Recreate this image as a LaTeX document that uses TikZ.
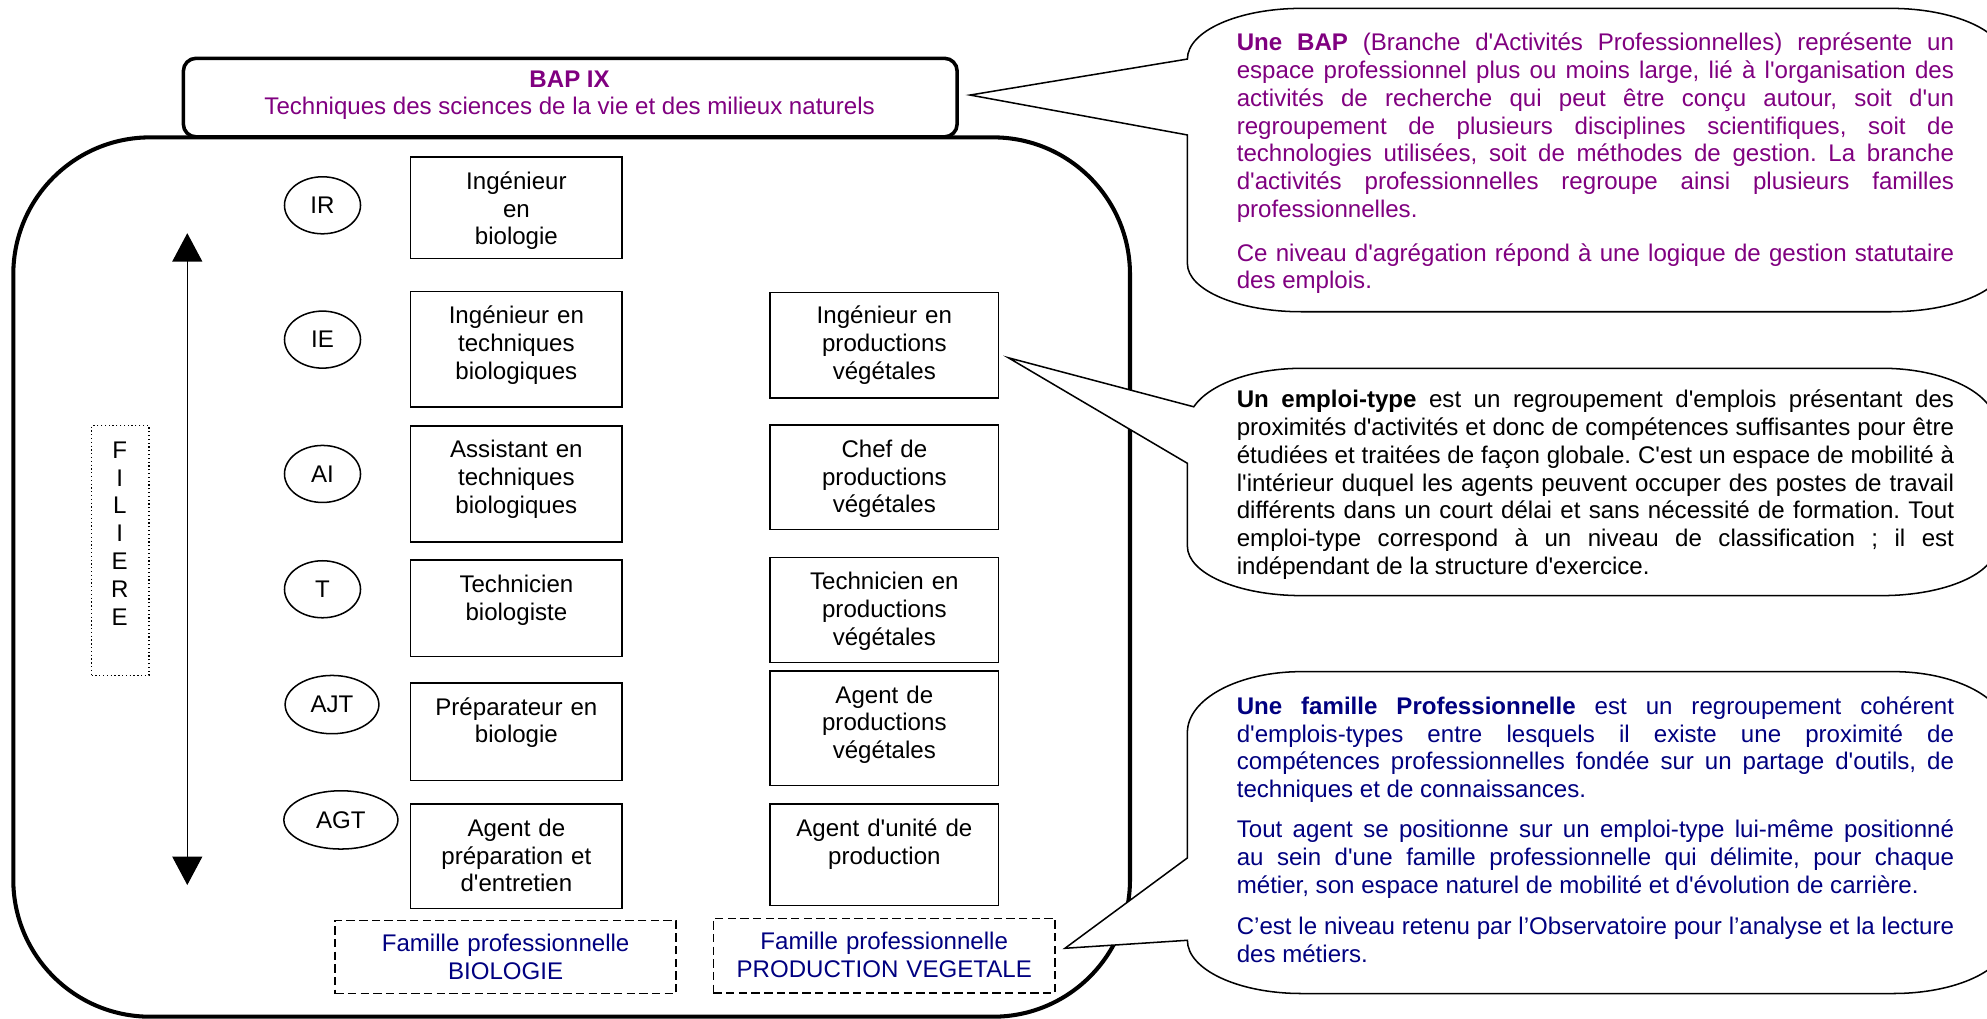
\documentclass[tikz,border=0pt]{standalone}
\usepackage{fontspec}
\newfontfamily\arial{Liberation Sans}
\usetikzlibrary{arrows.meta,shapes.geometric}
\definecolor{bapPurple}{RGB}{128,0,128}
\definecolor{famNavy}{RGB}{0,0,128}
\newcommand\mybodyfont{\arial\fontsize{9.5}{10.95}\selectfont}
\tikzset{
  txt/.style={font=\mybodyfont, inner sep=0pt, outer sep=0pt},
  jobbox/.style={draw, line width=0.6pt, fill=white, inner sep=0pt, minimum width=83.5pt},
  rjobbox/.style={jobbox, minimum width=90.15pt},
  jobtxt/.style={txt, anchor=base, align=center, text width=88pt},
  grade/.style={ellipse, draw, line width=0.6pt, txt, minimum width=30pt, minimum height=22.5pt},
  fambox/.style={draw, line width=0.6pt, dash pattern=on 3.3pt off 1.7pt, inner sep=0pt},
  famtxt/.style={txt, anchor=base, align=center, text width=130pt, text=famNavy},
  callout/.style={draw, line width=0.6pt, fill=white},
  calltxt/.style={txt, anchor=base west, align=justify, text width=283pt,
    execute at begin node={\frenchspacing\hyphenpenalty=10000\exhyphenpenalty=10000}},
}
\begin{document}
\begin{tikzpicture}[x=0.5pt, y=-0.5pt]
\useasboundingbox (0,0) rectangle (1568,804);
\clip (0,0) rectangle (1568,804);

% domain box
\node[draw, line width=1.6pt, rounded corners=54pt, minimum width=440.6pt,
      minimum height=346.95pt, inner sep=0pt] (domain) at (451.1,455.35) {};

% BAP title box
\node[draw, line width=1.4pt, rounded corners=5pt, fill=white, minimum width=305.3pt,
      minimum height=31pt, inner sep=0pt] (BAP) at (450,77) {};
\node[txt, anchor=base, text=bapPurple, font=\mybodyfont\bfseries] (bapT1) at (449.5,69.4) {BAP IX};
\node[txt, anchor=base, text=bapPurple] (bapT2) at (449.5,90) {Techniques des sciences de la vie et des milieux naturels};

% filiere
\coordinate (arrTop) at (147.8,184);
\coordinate (arrBot) at (147.8,698.4);
\draw[line width=0.5pt, {Triangle[width=11.8pt,length=11.2pt]}-{Triangle[width=11.8pt,length=11.2pt]}] (arrTop) -- (arrBot);
\node[draw, densely dotted, line width=0.5pt, minimum width=22.6pt, minimum height=98.5pt, inner sep=0pt] (filBox) at (94.9,434.5) {};
\node[txt, anchor=base, align=center, text width=15pt] (filT) at (94.5,361.8) {F\\I\\L\\I\\E\\R\\E};

% grades
\node[grade] (IR) at (254.5,162) {IR};
\node[grade] (IE) at (254.5,268) {IE};
\node[grade] (AI) at (254.5,374) {AI};
\node[grade] (T) at (254.5,465) {T};
\node[grade, minimum width=37pt, minimum height=23pt] (AJT) at (262,556) {AJT};
\node[grade, minimum width=45pt, minimum height=23pt] (AGT) at (269,647) {AGT};

% left column
\node[jobbox, minimum height=40pt] (L1) at (407.5,164) {};
\node[jobtxt] (L1t) at ([yshift=-13pt]L1.north) {Ingénieur\\en\\biologie};
\node[jobbox, minimum height=45.5pt] (L2) at (407.5,275.5) {};
\node[jobtxt] (L2t) at ([yshift=-13pt]L2.north) {Ingénieur en\\techniques\\biologiques};
\node[jobbox, minimum height=45.75pt] (L3) at (407.5,381.75) {};
\node[jobtxt] (L3t) at ([yshift=-13pt]L3.north) {Assistant en\\techniques\\biologiques};
\node[jobbox, minimum height=38pt] (L4) at (407.5,480) {};
\node[jobtxt] (L4t) at ([yshift=-13pt]L4.north) {Technicien\\biologiste};
\node[jobbox, minimum height=38.5pt] (L5) at (407.5,577.5) {};
\node[jobtxt] (L5t) at ([yshift=-13pt]L5.north) {Préparateur en\\biologie};
\node[jobbox, minimum height=41.25pt] (L6) at (407.5,675.75) {};
\node[jobtxt] (L6t) at ([yshift=-13pt]L6.north) {Agent de\\préparation et\\d'entretien};

% right column
\node[rjobbox, minimum height=41.5pt] (R1) at (697.85,272.5) {};
\node[jobtxt] (R1t) at ([yshift=-12.5pt]R1.north) {Ingénieur en\\productions\\végétales};
\node[rjobbox, minimum height=41.25pt] (R2) at (697.85,376.75) {};
\node[jobtxt] (R2t) at ([yshift=-13pt]R2.north) {Chef de\\productions\\végétales};
\node[rjobbox, minimum height=41.3pt] (R3) at (697.85,481.3) {};
\node[jobtxt] (R3t) at ([yshift=-13pt]R3.north) {Technicien en\\productions\\végétales};
\node[rjobbox, minimum height=45.25pt] (R4) at (697.85,574.75) {};
\node[jobtxt] (R4t) at ([yshift=-13pt]R4.north) {Agent de\\productions\\végétales};
\node[rjobbox, minimum height=40.1pt] (R5) at (697.85,674.6) {};
\node[jobtxt] (R5t) at ([yshift=-13pt]R5.north) {Agent d'unité de\\production};

% families
\node[fambox, minimum width=134.5pt, minimum height=28.75pt] (famBio) at (399,755.25) {};
\node[famtxt] (famBioT) at ([yshift=-12.6pt]famBio.north) {Famille professionnelle\\BIOLOGIE};
\node[fambox, minimum width=134.75pt, minimum height=29.35pt] (famVeg) at (697.75,754.05) {};
\node[famtxt] (famVegT) at ([yshift=-12.65pt]famVeg.north) {Famille professionnelle\\PRODUCTION VEGETALE};

% callouts
\coordinate (tip1) at (765.5,75);
\coordinate (tip2) at (795.7,282.3);
\coordinate (tip3) at (840.4,748.3);

\draw[callout] (937,46.6) arc[start angle=180,end angle=270,x radius=90,y radius=40]
  -- (1492,6.6) arc[start angle=270,end angle=360,x radius=90,y radius=40]
  -- (1582,208) arc[start angle=0,end angle=90,x radius=90,y radius=38]
  -- (1027,246) arc[start angle=90,end angle=180,x radius=90,y radius=38]
  -- (937,106.5) -- (tip1) -- cycle;

\draw[callout] (942,321) arc[start angle=199,end angle=270,x radius=90,y radius=45]
  -- (1485,290.6) arc[start angle=270,end angle=360,x radius=90,y radius=45]
  -- (1575,431) arc[start angle=0,end angle=90,x radius=90,y radius=39]
  -- (1027,470) arc[start angle=90,end angle=180,x radius=90,y radius=39]
  -- (937,365.6) -- (tip2) -- cycle;

\draw[callout] (937,677) -- (937,578) arc[start angle=180,end angle=270,x radius=90,y radius=48]
  -- (1494,530) arc[start angle=270,end angle=360,x radius=90,y radius=48]
  -- (1584,742) arc[start angle=0,end angle=90,x radius=90,y radius=42]
  -- (1027,784) arc[start angle=90,end angle=180,x radius=90,y radius=42]
  -- (tip3) -- cycle;

% callout texts
\node[calltxt, text=bapPurple] (c1p1) at (976,40.2) {\textbf{Une BAP} (Branche d'Activités Professionnelles) représente un\linebreak
espace professionnel plus ou moins large, lié à l'organisation des\linebreak
activités de recherche qui peut être conçu autour, soit d'un\linebreak
regroupement de plusieurs disciplines scientifiques, soit de\linebreak
technologies utilisées, soit de méthodes de gestion. La branche\linebreak
d'activités professionnelles regroupe ainsi plusieurs familles\linebreak
professionnelles.};
\node[calltxt, text=bapPurple] (c1p2) at (976,206) {Ce niveau d'agrégation répond à une logique de gestion statutaire\linebreak des emplois.};

\node[calltxt] (c2p1) at (976,321.8) {\textbf{Un emploi-type} est un regroupement d'emplois présentant des\linebreak
proximités d'activités et donc de compétences suffisantes pour être\linebreak
étudiées et traitées de façon globale. C'est un espace de mobilité à\linebreak
l'intérieur duquel les agents peuvent occuper des postes de travail\linebreak
différents dans un court délai et sans nécessité de formation. Tout\linebreak
emploi-type correspond à un niveau de classification ; il est\linebreak
indépendant de la structure d'exercice.};

\node[calltxt, text=famNavy] (c3p1) at (976,563.7) {\textbf{Une famille Professionnelle} est un regroupement cohérent\linebreak
d'emplois-types entre lesquels il existe une proximité de\linebreak
compétences professionnelles fondée sur un partage d'outils, de\linebreak
techniques et de connaissances.};
\node[calltxt, text=famNavy] (c3p2) at (976,661) {Tout agent se positionne sur un emploi-type lui-même positionné\linebreak
au sein d'une famille professionnelle qui délimite, pour chaque\linebreak
métier, son espace naturel de mobilité et d'évolution de carrière.};
\node[calltxt, text=famNavy] (c3p3) at (976,737.3) {C’est le niveau retenu par l’Observatoire pour l’analyse et la lecture\linebreak
des métiers.};
\end{tikzpicture}
\end{document}
